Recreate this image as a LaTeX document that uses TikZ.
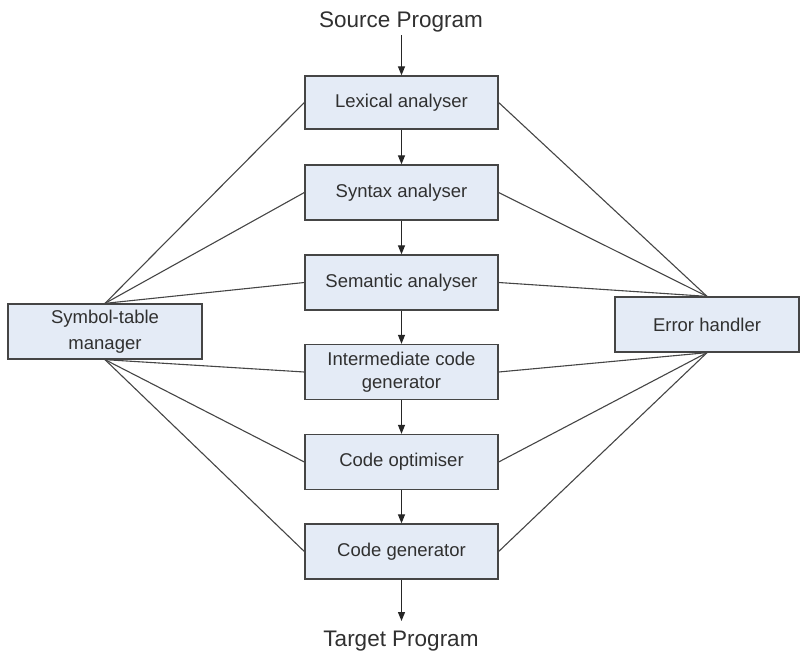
\documentclass[tikz,border=0pt]{standalone}
\usepackage{fontspec}
\setmainfont{Liberation Sans}
\usetikzlibrary{arrows.meta}
\definecolor{boxfill}{HTML}{E4EBF6}
\definecolor{boxline}{HTML}{454545}
\definecolor{txt}{HTML}{303030}
\tikzset{
  stage/.style={draw=boxline, line width=1.3pt, fill=boxfill, minimum width=193pt, minimum height=53pt, inner sep=0pt, align=center, text=txt, font=\fontsize{18.5}{23}\selectfont},
  side/.style={draw=boxline, line width=1.3pt, fill=boxfill, minimum height=55pt, inner sep=0pt, align=center, text=txt, font=\fontsize{18.5}{26}\selectfont},
  flow/.style={draw=black!85, line width=1.2pt, -{Triangle[length=9pt,width=7pt]}},
  link/.style={draw=boxline, line width=1.1pt},
  title/.style={text=txt, font=\fontsize{22.5}{26}\selectfont, inner sep=0pt}
}
\begin{document}
\begin{tikzpicture}[x=1pt,y=-1pt]
\useasboundingbox (0,0) rectangle (801,651);
\node[title, anchor=base] (src) at (401,27) {Source Program};
\node[stage] (lex) at (401.5,102.5) {Lexical analyser};
\node[stage, minimum height=55pt] (syn) at (401.5,192.5) {Syntax analyser};
\node[stage, minimum height=55pt] (sem) at (401.5,282.5) {Semantic analyser};
\node[stage, minimum height=55pt] (icg) at (401.5,372) {Intermediate code\\generator};
\node[stage, minimum height=55pt] (opt) at (401.5,462) {Code optimiser};
\node[stage, minimum height=55pt] (gen) at (401.5,551.5) {Code generator};
\node[title, anchor=base] (tgt) at (401,646) {Target Program};
\node[side, minimum width=194pt] (sym) at (105,331.5) {Symbol-table\\manager};
\node[side, minimum width=184pt] (err) at (707,324.5) {Error handler};
\coordinate (srcend) at (401.5,35);
\coordinate (tgtend) at (401.5,621);
\draw[flow] (srcend) -- (lex.north);
\draw[flow] (lex) -- (syn);
\draw[flow] (syn) -- (sem);
\draw[flow] (sem) -- (icg);
\draw[flow] (icg) -- (opt);
\draw[flow] (opt) -- (gen);
\draw[flow] (gen.south) -- (tgtend);
\foreach \n in {lex,syn,sem}{
  \draw[link] (sym.north) -- (\n.west);
  \draw[link] (err.north) -- (\n.east);
}
\foreach \n in {icg,opt,gen}{
  \draw[link] (sym.south) -- (\n.west);
  \draw[link] (err.south) -- (\n.east);
}
\end{tikzpicture}
\end{document}
